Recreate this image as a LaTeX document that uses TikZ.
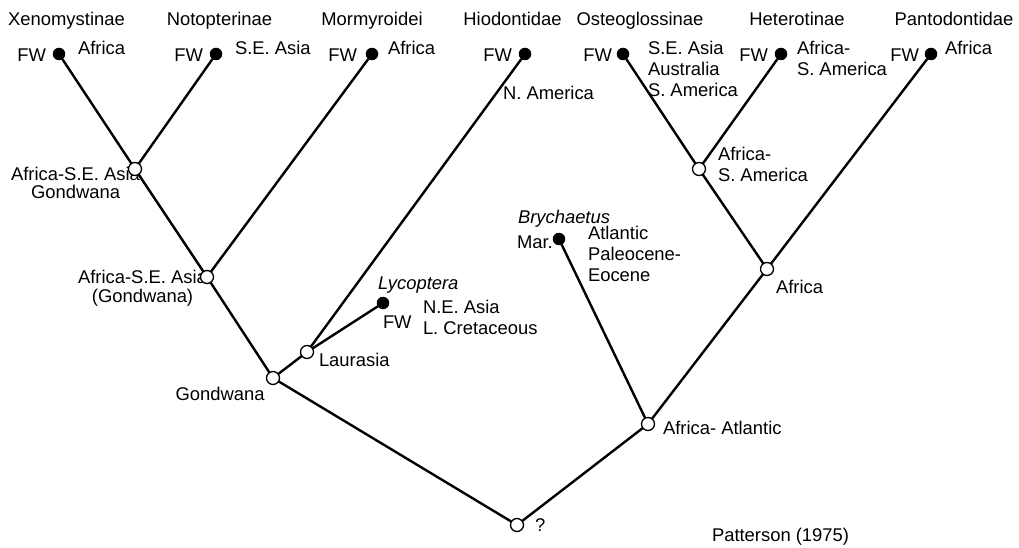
\documentclass[tikz,border=0pt]{standalone}
\usepackage{fontspec}
\setmainfont{Liberation Sans}
\begin{document}
\begin{tikzpicture}[x=1pt,y=-1pt,
  every node/.style={inner sep=0pt, outer sep=0pt, font=\fontsize{18.4}{21}\selectfont},
  leaf/.style={circle, fill=black, minimum size=12.5pt},
  inner/.style={circle, draw=black, fill=white, line width=1.3pt, minimum size=13pt},
  br/.style={line width=2.4pt},
  lab/.style={anchor=base west, align=left},
  labe/.style={anchor=base east},
  ttl/.style={anchor=base}
]
\useasboundingbox (0,0) rectangle (1019,548);

% titles
\node[ttl] (t1) at (66.5,26) {Xenomystinae};
\node[ttl] (t2) at (219.5,26) {Notopterinae};
\node[ttl] (t3) at (372,26) {Mormyroidei};
\node[ttl] (t4) at (512.5,26) {Hiodontidae};
\node[ttl] (t5) at (640,26) {Osteoglossinae};
\node[ttl] (t6) at (797,26) {Heterotinae};
\node[ttl] (t7) at (954,26) {Pantodontidae};

% leaf labels (multi-line: base = last line)
\node[labe] (f1) at (46,62) {FW};
\node[lab] (g1) at (78,55) {Africa};
\node[labe] (f2) at (203,62) {FW};
\node[lab] (g2) at (235,55) {S.E. Asia};
\node[labe] (f3) at (357,62) {FW};
\node[lab] (g3) at (388,55) {Africa};
\node[labe] (f4) at (512,62) {FW};
\node[lab] (g4) at (503,100) {N. America};
\node[labe] (f5) at (612,62) {FW};
\node[lab] (g5) at (648,97) {S.E. Asia\\Australia\\S. America};
\node[labe] (f6) at (768,62) {FW};
\node[lab] (g6) at (797,76) {Africa-\\S. America};
\node[labe] (f7) at (919,62) {FW};
\node[lab] (g7) at (945,55) {Africa};

% fossil labels
\node[lab] (ly) at (378,289) {\itshape Lycoptera};
\node[lab] (lyf) at (383,328) {FW};
\node[lab] (lyg) at (423,334) {N.E. Asia\\L. Cretaceous};
\node[lab] (by) at (518,223) {\itshape Brychaetus};
\node[lab] (bym) at (517,248) {Mar.};
\node[lab] (byg) at (588,281) {Atlantic\\Paleocene-\\Eocene};

% internal labels
\node[anchor=base, align=center] (l1) at (75.5,198) {Africa-S.E. Asia\\[-3pt]Gondwana};
\node[anchor=base, align=center] (l2) at (142.5,302) {Africa-S.E. Asia\\[-2pt](Gondwana)};
\node[ttl] (l3) at (220,400) {Gondwana};
\node[lab] (l4) at (319,366) {Laurasia};
\node[lab] (l5) at (718,182) {Africa-\\S. America};
\node[lab] (l6) at (776,293) {Africa};
\node[lab] (l7) at (663,434) {Africa- Atlantic};
\node[lab] (l8) at (535,531) {?};
\node[lab] (pat) at (712,541) {Patterson (1975)};

% leaves
\node[leaf] (xe) at (59,54) {};
\node[leaf] (no) at (216,54) {};
\node[leaf] (mo) at (372,54) {};
\node[leaf] (hi) at (525,54) {};
\node[leaf] (os) at (623,54) {};
\node[leaf] (he) at (781,54) {};
\node[leaf] (pa) at (931,54) {};
\node[leaf] (lyc) at (383,303) {};
\node[leaf] (bry) at (559,239) {};

% internal nodes
\node[inner] (n1) at (135,169) {};
\node[inner] (n2) at (207,277) {};
\node[inner] (gw) at (273,378) {};
\node[inner] (la) at (307,352) {};
\node[inner] (as) at (699,169) {};
\node[inner] (af) at (767,269) {};
\node[inner] (aa) at (648,424) {};
\node[inner] (rt) at (517,525) {};

% branches
\draw[br] (xe) -- (n1);
\draw[br] (no) -- (n1);
\draw[br] (n1) -- (n2);
\draw[br] (mo) -- (n2);
\draw[br] (n2) -- (gw);
\draw[br] (gw) -- (la);
\draw[br] (la) -- (hi);
\draw[br] (la) -- (lyc);
\draw[br] (gw) -- (rt);
\draw[br] (rt) -- (aa);
\draw[br] (aa) -- (bry);
\draw[br] (aa) -- (af);
\draw[br] (af) -- (as);
\draw[br] (af) -- (pa);
\draw[br] (as) -- (os);
\draw[br] (as) -- (he);
\end{tikzpicture}
\end{document}
